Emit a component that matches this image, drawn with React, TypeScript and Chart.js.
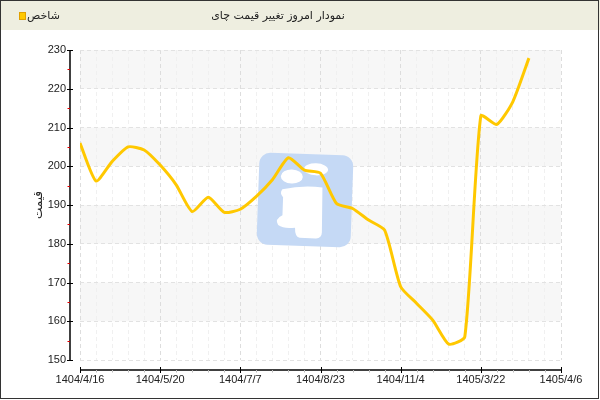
import React, { useEffect, useRef } from "react";
import { Chart, registerables } from "chart.js";

Chart.register(...registerables);

const chartTitle = "نمودار امروز تغییر قیمت چای";
const seriesName = "شاخص";
const yAxisTitle = "قیمت";
const xTickLabels = ["1404/4/16", "1404/5/20", "1404/7/7", "1404/8/23", "1404/11/4", "1405/3/22", "1405/4/6"];
const priceValues = [
  206, 196.2, 201.2, 205, 204.2, 200.3, 195.2, 188.3, 192, 188.1,
  188.9, 192.2, 196.5, 202.2, 199, 198.2, 190.4, 189.1, 186.1, 183.5,
  168.9, 164.6, 160.3, 154.1, 156, 213, 210.8, 216.7, 227.9,
];
const yTicks = [150, 160, 170, 180, 190, 200, 210, 220, 230];

const LINE_COLOR = "#FFC800";
const PERSIAN_FONT = "'DejaVu Sans', sans-serif";

function drawLogo(ctx: CanvasRenderingContext2D, cx: number, cy: number) {
  ctx.save();
  ctx.translate(cx, cy);
  ctx.rotate((2 * Math.PI) / 180);
  ctx.fillStyle = "#C5D9F5";
  ctx.beginPath();
  ctx.roundRect(-47, -46, 94, 92, 11);
  ctx.fill();
  ctx.fillStyle = "#FFFFFF";
  ctx.beginPath();
  ctx.ellipse(-14, -23, 11, 7, 0, 0, Math.PI * 2);
  ctx.fill();
  ctx.beginPath();
  ctx.ellipse(10, -31, 12, 6, 0, 0, Math.PI * 2);
  ctx.fill();
  ctx.beginPath();
  ctx.moveTo(-23, -10);
  ctx.quadraticCurveTo(-2, -15, 17, -13);
  ctx.lineTo(18, 32);
  ctx.quadraticCurveTo(18, 38, 12, 38);
  ctx.lineTo(-4, 38);
  ctx.quadraticCurveTo(-9, 37, -9, 28);
  ctx.quadraticCurveTo(-20, 30, -26, 26);
  ctx.quadraticCurveTo(-30, 20, -22, 16);
  ctx.lineTo(-22, -2);
  ctx.quadraticCurveTo(-26, -6, -23, -10);
  ctx.closePath();
  ctx.fill();
  ctx.restore();
}

const framePlugin = {
  id: "frame",
  beforeDraw(chart: any) {
    const { ctx, chartArea, scales } = chart;
    const y = scales.y;
    ctx.save();
    ctx.fillStyle = "#FFFFFF";
    ctx.fillRect(0, 0, chart.width, chart.height);
    ctx.fillStyle = "#F7F7F7";
    for (let i = 0; i < yTicks.length - 1; i++) {
      const lo = yTicks[i];
      const hi = yTicks[i + 1];
      if ((yTicks.length - 2 - i) % 2 === 0) {
        const top = y.getPixelForValue(hi);
        const bot = y.getPixelForValue(lo);
        ctx.fillRect(chartArea.left, top, chartArea.right - chartArea.left, bot - top);
      }
    }
    ctx.fillStyle = "#EEEEE0";
    ctx.fillRect(0, 0, chart.width, 30);
    ctx.strokeStyle = "#333333";
    ctx.lineWidth = 1;
    ctx.strokeRect(0.5, 0.5, 598, 398);
    ctx.fillStyle = "#222222";
    ctx.font = "11px " + PERSIAN_FONT;
    ctx.textAlign = "center";
    ctx.textBaseline = "middle";
    ctx.fillText(chartTitle, 278, 16);
    ctx.fillStyle = "#FFC800";
    ctx.fillRect(20, 13, 5, 6);
    ctx.strokeStyle = "#E0A000";
    ctx.strokeRect(19.5, 12.5, 6, 7);
    ctx.fillStyle = "#222222";
    ctx.font = "11px " + PERSIAN_FONT;
    ctx.textAlign = "left";
    ctx.fillText(seriesName, 27, 16);
    ctx.restore();
  },
  beforeDatasetsDraw(chart: any) {
    const { ctx, chartArea } = chart;
    drawLogo(ctx, chartArea.left + 225, (chartArea.top + chartArea.bottom) / 2 - 5);
  },
  afterDraw(chart: any) {
    const { ctx, chartArea, scales } = chart;
    const x = scales.x;
    const y = scales.y;
    ctx.save();
    const ax = chartArea.left - 10;
    ctx.strokeStyle = "#000000";
    ctx.lineWidth = 1.5;
    ctx.beginPath();
    ctx.moveTo(ax, chartArea.top);
    ctx.lineTo(ax, chartArea.bottom);
    ctx.stroke();
    ctx.lineWidth = 1;
    for (const v of yTicks) {
      const py = Math.round(y.getPixelForValue(v)) + 0.5;
      ctx.strokeStyle = "#000000";
      ctx.beginPath();
      ctx.moveTo(ax - 3, py);
      ctx.lineTo(ax + 3, py);
      ctx.stroke();
      if (v < yTicks[yTicks.length - 1]) {
        const pm = Math.round(y.getPixelForValue(v + 5)) + 0.5;
        ctx.strokeStyle = "#E00000";
        ctx.beginPath();
        ctx.moveTo(ax - 2.5, pm);
        ctx.lineTo(ax, pm);
        ctx.stroke();
      }
    }
    const ay = chartArea.bottom + 10;
    ctx.strokeStyle = "#000000";
    ctx.lineWidth = 1.5;
    ctx.beginPath();
    ctx.moveTo(chartArea.left, ay);
    ctx.lineTo(chartArea.right, ay);
    ctx.stroke();
    ctx.lineWidth = 1;
    for (let i = 0; i <= (xTickLabels.length - 1) * 5; i++) {
      const px = Math.round(x.getPixelForValue(i)) + 0.5;
      ctx.beginPath();
      if (i % 5 === 0) {
        ctx.strokeStyle = "#000000";
        ctx.moveTo(px, ay - 3);
        ctx.lineTo(px, ay + 3);
      } else {
        ctx.strokeStyle = "#BBBBBB";
        ctx.moveTo(px, ay);
        ctx.lineTo(px, ay + 2.5);
      }
      ctx.stroke();
    }
    ctx.restore();
  },
};

export default function App() {
  const canvasRef = useRef<HTMLCanvasElement | null>(null);

  useEffect(() => {
    if (!canvasRef.current) return;
    const chart = new Chart(canvasRef.current, {
      type: "line",
      data: {
        datasets: [
          {
            label: seriesName,
            data: priceValues.map((v, i) => ({ x: i, y: v })),
            borderColor: LINE_COLOR,
            backgroundColor: LINE_COLOR,
            borderWidth: 3,
            pointRadius: 0,
            tension: 0.2,
            fill: false,
          },
        ],
      },
      options: {
        responsive: false,
        animation: false,
        layout: { padding: { top: 50, left: 10, right: 39, bottom: 10 } },
        plugins: {
          legend: { display: false },
          title: { display: false },
          tooltip: { enabled: false },
        },
        scales: {
          x: {
            type: "linear",
            min: 0,
            max: (xTickLabels.length - 1) * 5,
            afterFit: (s: any) => {
              s.height = 30;
            },
            ticks: {
              stepSize: 1,
              autoSkip: false,
              maxRotation: 0,
              padding: 13,
              color: "#222222",
              font: { family: "'Liberation Sans', sans-serif", size: 11 },
              callback: (v: any) => (Number(v) % 5 === 0 ? xTickLabels[Number(v) / 5] : ""),
            },
            grid: {
              drawTicks: false,
              color: (c: any) => (c.tick && c.tick.value % 5 === 0 ? "#DDDDDD" : "#F0F0F0"),
            },
            border: { display: false, dash: [4, 3] },
          },
          y: {
            type: "linear",
            min: 150,
            max: 230,
            afterFit: (s: any) => {
              s.width = 70;
            },
            ticks: {
              stepSize: 10,
              padding: 14,
              color: "#222222",
              font: { family: "'Liberation Sans', sans-serif", size: 11 },
            },
            grid: { drawTicks: false, color: "#E2E2E2" },
            border: { display: false, dash: [4, 3] },
            title: {
              display: true,
              text: yAxisTitle,
              color: "#222222",
              font: { family: PERSIAN_FONT, size: 12 },
              padding: { top: 22, bottom: 0 },
            },
          },
        },
      },
      plugins: [framePlugin],
    });
    return () => chart.destroy();
  }, []);

  return (
    <div style={{ position: "fixed", left: 0, top: 0, width: 600, height: 400 }}>
      <canvas ref={canvasRef} width={600} height={400} style={{ width: 600, height: 400, display: "block" }} />
    </div>
  );
}
